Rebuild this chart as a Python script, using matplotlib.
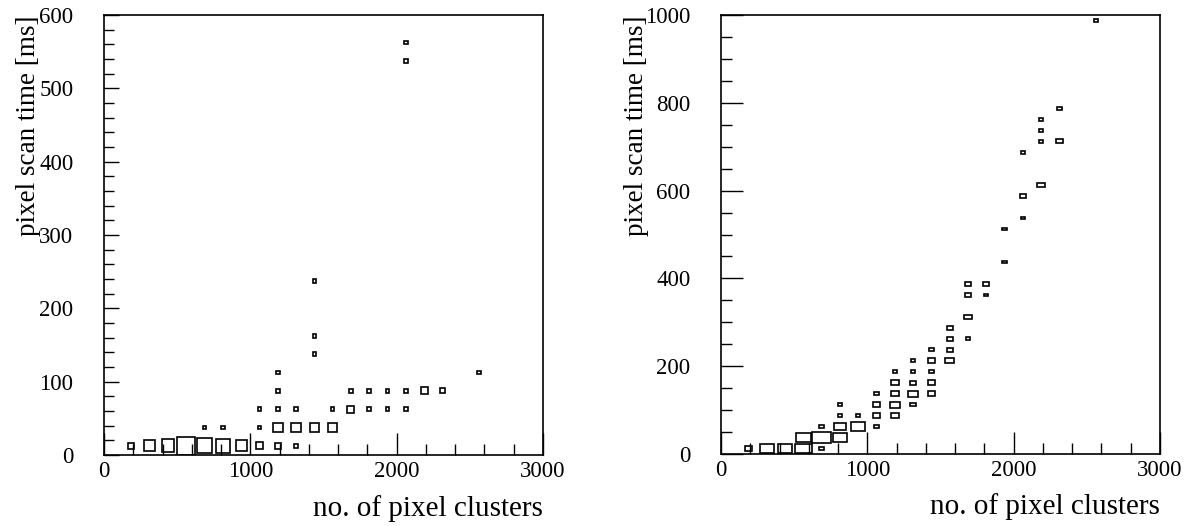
import numpy as np
import matplotlib
matplotlib.use('Agg')
import matplotlib.pyplot as plt
from matplotlib.patches import Rectangle
from matplotlib.ticker import MultipleLocator

plt.rcParams['font.family'] = ['Liberation Serif', 'DejaVu Serif']

# histogram binning (both panels)
x_bin = 125.0   # pixel clusters
y_bin = 25.0    # ms

# left panel: bin centres and entries
left_clusters = [187.5, 312.5, 437.5, 562.5, 687.5, 812.5, 937.5, 1062.5, 1187.5, 1312.5,
                 687.5, 812.5, 1062.5, 1187.5, 1312.5, 1437.5, 1562.5,
                 1062.5, 1187.5, 1312.5, 1562.5, 1687.5, 1812.5, 1937.5, 2062.5,
                 1187.5, 1687.5, 1812.5, 1937.5, 2062.5, 2187.5, 2312.5,
                 1187.5, 2562.5,
                 1437.5, 1437.5, 1437.5,
                 2062.5, 2062.5]
left_time = [12.5, 12.5, 12.5, 12.5, 12.5, 12.5, 12.5, 12.5, 12.5, 12.5,
             37.5, 37.5, 37.5, 37.5, 37.5, 37.5, 37.5,
             62.5, 62.5, 62.5, 62.5, 62.5, 62.5, 62.5, 62.5,
             87.5, 87.5, 87.5, 87.5, 87.5, 87.5, 87.5,
             112.5, 112.5,
             137.5, 162.5, 237.5,
             537.5, 562.5]
left_entries = [3, 10, 13, 27, 18, 17, 10, 4, 3, 1,
                1, 1, 1, 8, 8, 7, 7,
                1, 1, 1, 1, 4, 1, 1, 1,
                1, 1, 1, 1, 1, 4, 2,
                1, 1,
                1, 1, 1,
                1, 1]

# right panel: bin centres and entries
right_clusters = [187.5, 312.5, 437.5, 562.5, 687.5,
                  562.5, 687.5, 812.5,
                  687.5, 812.5, 937.5, 1062.5,
                  812.5, 937.5, 1062.5, 1187.5,
                  812.5, 1062.5, 1187.5, 1312.5,
                  1062.5, 1187.5, 1312.5, 1437.5,
                  1187.5, 1312.5, 1437.5,
                  1187.5, 1312.5, 1437.5,
                  1312.5, 1437.5, 1562.5,
                  1437.5, 1562.5,
                  1562.5, 1687.5,
                  1562.5,
                  1687.5,
                  1687.5, 1812.5,
                  1687.5, 1812.5,
                  1937.5, 1937.5,
                  2062.5, 2062.5, 2187.5, 2062.5,
                  2187.5, 2312.5, 2187.5, 2187.5, 2312.5,
                  2562.5]
right_time = [12.5, 12.5, 12.5, 12.5, 12.5,
              37.5, 37.5, 37.5,
              62.5, 62.5, 62.5, 62.5,
              87.5, 87.5, 87.5, 87.5,
              112.5, 112.5, 112.5, 112.5,
              137.5, 137.5, 137.5, 137.5,
              162.5, 162.5, 162.5,
              187.5, 187.5, 187.5,
              212.5, 212.5, 212.5,
              237.5, 237.5,
              262.5, 262.5,
              287.5,
              312.5,
              362.5, 362.5,
              387.5, 387.5,
              437.5, 512.5,
              537.5, 587.5, 612.5, 687.5,
              712.5, 712.5, 737.5, 762.5, 787.5,
              987.5]
right_entries = [3, 10, 11, 14, 1,
                 11, 17, 10,
                 1, 7, 10, 1,
                 1, 1, 3, 3,
                 1, 3, 5, 2,
                 1, 3, 5, 3,
                 3, 2, 3,
                 1, 1, 1,
                 1, 3, 4,
                 1, 2,
                 2, 1,
                 2,
                 3,
                 2, 1,
                 2, 2,
                 1, 1,
                 1, 2, 3, 1,
                 1, 2, 1, 1, 1,
                 1]


def draw_boxes(ax, clusters, times, entries):
    # box side scales with sqrt(entries / max), ROOT "box" style
    top = max(entries)
    for x, y, n in zip(clusters, times, entries):
        f = np.sqrt(n / top)
        w, h = f * x_bin, f * y_bin
        ax.add_patch(Rectangle((x - w / 2, y - h / 2), w, h, fill=False,
                               edgecolor='black', linewidth=1.2))


def setup_axes(ax, ymax, ymajor, yminor, ylen, ylab_x):
    ax.set_xlim(0, 3000)
    ax.set_ylim(0, ymax)
    ax.xaxis.set_major_locator(MultipleLocator(1000))
    ax.xaxis.set_minor_locator(MultipleLocator(200))
    ax.yaxis.set_major_locator(MultipleLocator(ymajor))
    ax.yaxis.set_minor_locator(MultipleLocator(yminor))
    for s in ax.spines.values():
        s.set_linewidth(1.2)
    ax.tick_params(which='both', direction='in', top=False, right=False,
                   width=1.0, labelsize=16.5)
    ax.tick_params(axis='x', which='major', length=15.8, pad=4)
    ax.tick_params(axis='x', which='minor', length=7.9)
    ax.tick_params(axis='y', which='major', length=ylen[0], pad=22)
    ax.tick_params(axis='y', which='minor', length=ylen[1])
    ax.set_xlabel('no. of pixel clusters', fontsize=21, loc='right')
    ax.set_ylabel('pixel scan time [ms]', fontsize=19.5, loc='top')
    ax.xaxis.set_label_coords(1.0, -0.09)
    ax.yaxis.set_label_coords(ylab_x, 1.0)


fig = plt.figure(figsize=(11.92, 5.26), dpi=100)
ax1 = fig.add_axes([104 / 1192, 71 / 526, 439 / 1192, 440 / 526])
ax2 = fig.add_axes([721 / 1192, 72 / 526, 439 / 1192, 439 / 526])

draw_boxes(ax1, left_clusters, left_time, left_entries)
draw_boxes(ax2, right_clusters, right_time, right_entries)

setup_axes(ax1, 600, 100, 20, (10.8, 7.2), -0.143)
setup_axes(ax2, 1000, 200, 50, (15.8, 7.9), -0.165)

fig.savefig('out.png', dpi=100)
